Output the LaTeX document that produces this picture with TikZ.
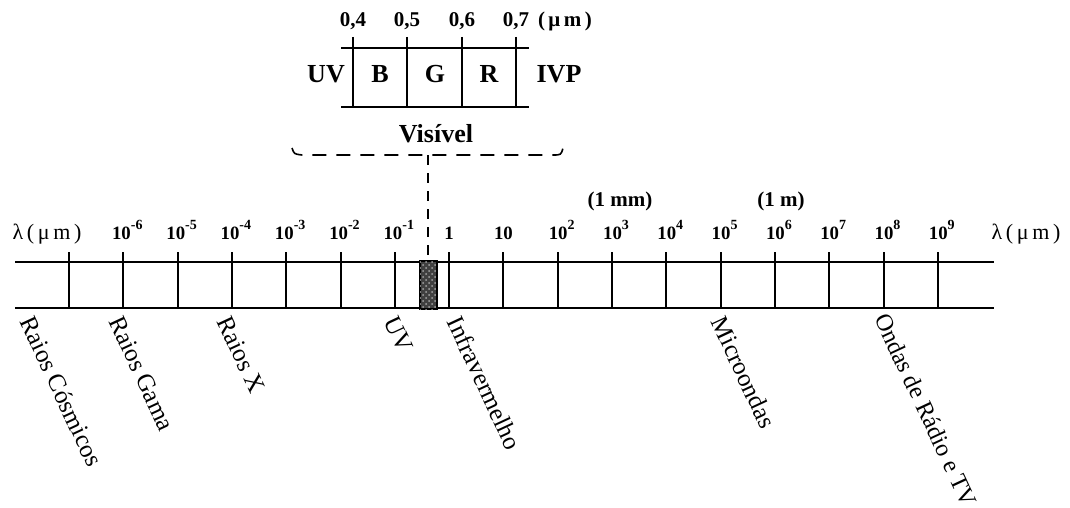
\documentclass[tikz,border=0pt]{standalone}
\usepackage{fontspec}
\setmainfont{Liberation Serif}
\usetikzlibrary{%
  positioning
 ,patterns
 ,calc
}
\newcommand{\pot}[1]{10\raisebox{0.5em}{\fontsize{7}{8}\selectfont #1}}
\tikzstyle{tk}=[line width=1pt]
\tikzstyle{pw}=[font=\bfseries\fontsize{9.4}{10}\selectfont,anchor=base,inner sep=0pt]
\tikzstyle{unit}=[font=\fontsize{11}{12}\selectfont,anchor=base,inner sep=0pt]
\tikzstyle{mark1}=[font=\bfseries\fontsize{10.5}{12}\selectfont,anchor=base,inner sep=0pt]
\tikzstyle{cor}=[font=\bfseries\fontsize{13}{15}\selectfont,anchor=base,inner sep=0pt]
\tikzstyle{faixa}=[font=\fontsize{12.5}{14}\selectfont,rotate=-65,anchor=north west,inner sep=0pt]

\begin{document}
\begin{tikzpicture}[x=0.5pt,y=-0.5pt,tk]
  \useasboundingbox (0,0) rectangle (1070,508);
% escala principal
  \draw (15,262) -- (994,262);
  \draw (15,308) -- (994,308);
  \foreach \i in {0,...,16}
    \draw (69+54.3*\i,252) -- (69+54.3*\i,308);
  \foreach \i/\t in {1/-6,2/-5,3/-4,4/-3,5/-2,6/-1,9/2,10/3,11/4,12/5,13/6,14/7,15/8,16/9}
    \node[pw] (p\i) at (73+54.3*\i,239) {\pot{\t}};
  \node[pw] (p7) at (69+54.3*7,239) {1};
  \node[pw] (p8) at (69+54.3*8,239) {10};
  \node[unit] (lamL) at (47,239) {λ\,(\,μ\,m\,)};
  \node[unit] (lamR) at (1026,239) {λ\,(\,μ\,m\,)};
  \node[mark1] (mm) at (620,206) {(1 mm)};
  \node[mark1] (m) at (781,206) {(1 m)};
% faixa do visivel
  \node[draw,minimum width=7.5pt,minimum height=23pt,inner sep=0pt] (vis) at (428.5,285) {};
  \draw[fill=black!75] (vis.south west) rectangle (vis.north east);
  \fill[pattern=crosshatch dots,pattern color=black!35] (vis.south west) rectangle (vis.north east);
% detalhe do visivel
  \draw (341,48) -- (529,48);
  \draw (341,107) -- (529,107);
  \foreach \x/\t in {353/{0,4},407/{0,5},462/{0,6},516/{0,7}}{
    \draw (\x,37) -- (\x,107);
    \node[mark1] at (\x,27) {\t};
  }
  \node[mark1,anchor=base west] (um) at (537,27) {(\,μ\,m\,)};
  \node[cor] (uv) at (326,83) {UV};
  \node[cor] (b) at (380,83) {B};
  \node[cor] (g) at (435,83) {G};
  \node[cor] (r) at (489,83) {R};
  \node[cor] (ivp) at (559,83) {IVP};
  \node[cor] (visivel) at (436,142) {Visível};
  \coordinate (brace) at (428,155);
  \draw[line width=0.8pt,dash pattern=on 7pt off 5pt]
    (292,148) .. controls (294,154) .. (302,155) -- (553,155) .. controls (561,155) .. (563,148);
  \draw[line width=0.8pt,dash pattern=on 5pt off 4pt] (brace) -- (brace |- vis.north);
% nomes das faixas
  \node[faixa] (cosm) at (36,313) {Raios Cósmicos};
  \node[faixa] (gama) at (124,313) {Raios Gama};
  \node[faixa] (rx) at (232,313) {Raios X};
  \node[faixa] (uvb) at (399,313) {UV};
  \node[faixa] (ir) at (463,313) {Infravermelho};
  \node[faixa] (micro) at (727,313) {Microondas};
  \node[faixa,font=\fontsize{12.1}{14}\selectfont] (radio) at (890,310) {Ondas de Rádio e TV};
\end{tikzpicture}
\end{document}
